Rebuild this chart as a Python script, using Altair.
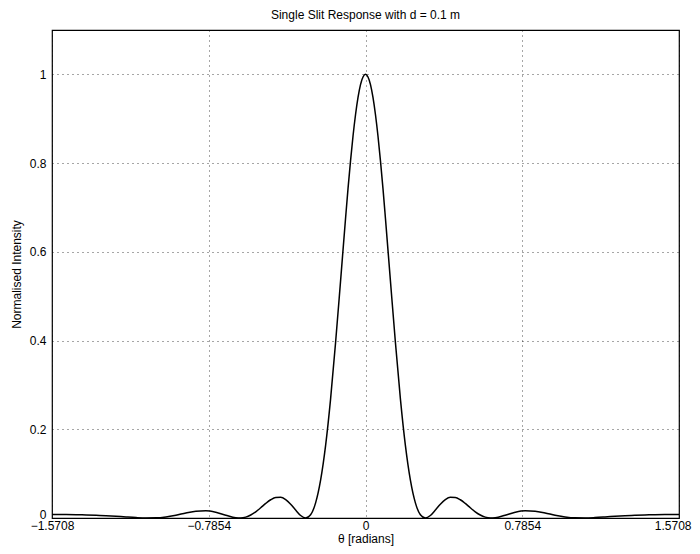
import altair as alt
import pandas as pd

# Angle (rad) and normalised intensity
theta = [
    -1.5708, -1.5, -1.45, -1.4, -1.35, -1.3, -1.25, -1.2, -1.15, -1.1, -1.05, -1.0,
    -0.95, -0.9, -0.85, -0.8, -0.75, -0.7, -0.65, -0.625, -0.6, -0.575, -0.55,
    -0.525, -0.5, -0.475, -0.45, -0.425, -0.4, -0.375, -0.35, -0.325, -0.3,
    -0.275, -0.25, -0.225, -0.2, -0.175, -0.15, -0.125, -0.1, -0.0875, -0.075,
    -0.0625, -0.05, -0.0375, -0.025, -0.0125, 0.0, 0.0125, 0.025, 0.0375, 0.05,
    0.0625, 0.075, 0.0875, 0.1, 0.125, 0.15, 0.175, 0.2, 0.225, 0.25,
    0.275, 0.3, 0.325, 0.35, 0.375, 0.4, 0.425, 0.45, 0.475, 0.5, 0.525, 0.55,
    0.575, 0.6, 0.625, 0.65, 0.7, 0.75, 0.8, 0.85, 0.9, 0.95, 1.0, 1.05, 1.1,
    1.15, 1.2, 1.25, 1.3, 1.35, 1.4, 1.45, 1.5, 1.5708,
]
intensity = [
    0.0078, 0.0077, 0.0074, 0.0070, 0.0062, 0.0052, 0.0039, 0.0023, 0.0009, 0.0001, 0.0004, 0.0025,
    0.0064, 0.0112, 0.0153, 0.0164, 0.0130, 0.0063, 0.0006, 0.0001, 0.0020, 0.0067, 0.0140,
    0.0231, 0.0328, 0.0411, 0.0463, 0.0467, 0.0415, 0.0311, 0.0179, 0.0057, 0.0000,
    0.0073, 0.0340, 0.0852, 0.163, 0.268, 0.395, 0.534, 0.675, 0.743, 0.805,
    0.861, 0.909, 0.948, 0.977, 0.994, 1.0, 0.994, 0.977, 0.948, 0.909,
    0.861, 0.805, 0.743, 0.675, 0.534, 0.395, 0.268, 0.163, 0.0852, 0.0340,
    0.0073, 0.0000, 0.0057, 0.0179, 0.0311, 0.0415, 0.0467, 0.0463, 0.0411, 0.0328, 0.0231, 0.0140,
    0.0067, 0.0020, 0.0001, 0.0006, 0.0063, 0.0130, 0.0164, 0.0153, 0.0112, 0.0064, 0.0025, 0.0004, 0.0001,
    0.0009, 0.0023, 0.0039, 0.0052, 0.0062, 0.0070, 0.0074, 0.0077, 0.0078,
]

x_ticks = [-1.5708, -0.7854, 0, 0.7854, 1.5708]
y_ticks = [0, 0.2, 0.4, 0.6, 0.8, 1]

df = pd.DataFrame({"theta": theta, "intensity": intensity})

FONT = "Liberation Sans"

line = alt.Chart(df).mark_line(color="black", strokeWidth=1.5, interpolate="monotone").encode(
    x=alt.X(
        "theta:Q",
        scale=alt.Scale(domain=[-1.5708, 1.5708], nice=False, zero=False),
        axis=alt.Axis(
            values=x_ticks,
            format=".4~f",
            title="θ [radians]",
            grid=True,
            gridColor="black",
            gridDash=[1, 4],
            gridOpacity=0.7,
            ticks=False,
            tickSize=0,
            labelPadding=2,
            titlePadding=2,
            domain=False,
            labelFlush=False,
            labelAlign={"condition": {"test": "datum.value > 1.5", "value": "right"}, "value": "center"},
            labelOffset={"condition": {"test": "datum.value > 1.5", "value": 12}, "value": 0},
        ),
    ),
    y=alt.Y(
        "intensity:Q",
        scale=alt.Scale(domain=[0, 1.1], nice=False),
        axis=alt.Axis(
            values=y_ticks,
            format="~g",
            title="Normalised Intensity",
            grid=True,
            gridColor="black",
            gridDash=[1, 4],
            gridOpacity=0.7,
            ticks=False,
            tickSize=0,
            labelPadding=6,
            titlePadding=6,
            domain=False,
            labelBaseline={"condition": {"test": "datum.value == 0", "value": "alphabetic"}, "value": "middle"},
        ),
    ),
)

chart = (
    line.properties(
        width=627,
        height=488,
        title=alt.TitleParams(
            "Single Slit Response with d = 0.1 m",
            font=FONT,
            fontSize=12,
            fontWeight="normal",
            offset=8,
            color="black",
        ),
        autosize=alt.AutoSizeParams(type="none"),
        padding={"left": 44, "top": 22, "right": 13, "bottom": 28},
    )
    .configure_view(stroke="black", strokeWidth=1.2)
    .configure_axis(
        labelFont=FONT,
        titleFont=FONT,
        labelFontSize=12,
        titleFontSize=12,
        titleFontWeight="normal",
        labelColor="black",
        titleColor="black",
    )
)

chart.save("out.html", embed_options={"renderer": "svg", "actions": False})
